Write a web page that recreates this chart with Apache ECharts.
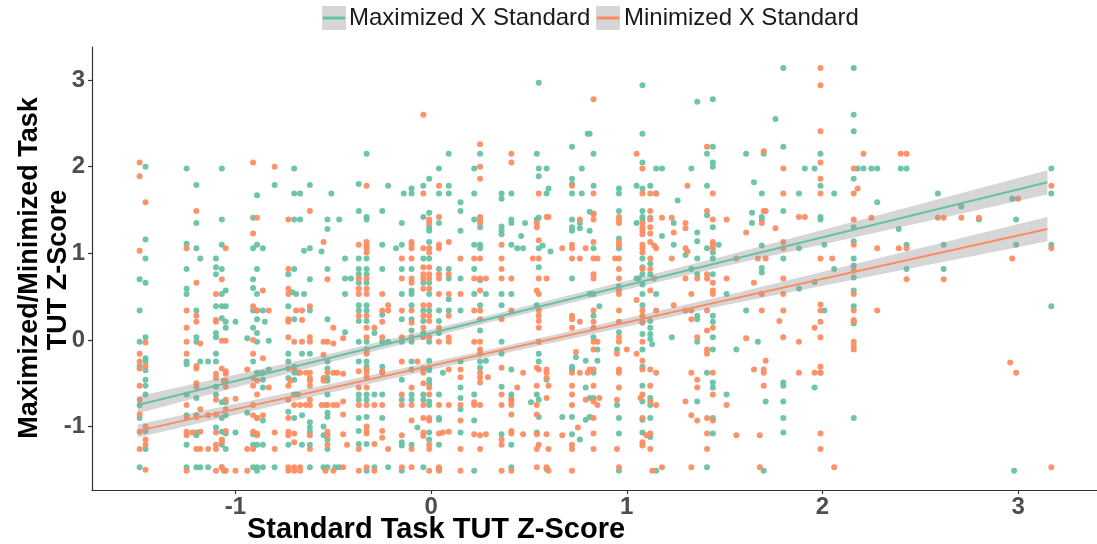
<!DOCTYPE html>
<html><head><meta charset="utf-8">
<script src="https://cdn.jsdelivr.net/npm/echarts@6/dist/echarts.min.js"></script>
<style>html,body{margin:0;padding:0;background:#fff}#c{width:1097px;height:544px}</style>
</head><body><div id="c"></div>
<script>
var seriesNames = ['Maximized X Standard', 'Minimized X Standard'];
var xTicks = [-1, 0, 1, 2, 3];
var yTicks = [-1, 0, 1, 2, 3];

var maxPts = [
[-1.46,2.0],[-1.46,1.16],[-1.46,0.94],[-1.49,0.70],[-1.46,0.66],[-1.49,0.34],[-1.49,-0.02],[-1.46,0.03],[-1.46,-0.21],[-1.46,-0.25],[-1.49,-0.30],[-1.46,-0.35],[-1.46,-0.46],[-1.46,-0.53],[-1.46,-0.63],[-1.49,-0.75],[-1.49,-0.90],[-1.46,-1.05],[-1.46,-1.26],[-1.49,-1.47],
[-1.25,1.98],[-1.20,1.79],[-1.20,1.35],[-1.25,1.11],[-1.20,1.06],[-1.18,0.94],[-1.25,0.82],[-1.25,0.59],[-1.25,0.53],[-1.20,0.34],[-1.20,-0.02],[-1.20,0.03],[-1.25,-0.25],[-1.25,-0.28],[-1.18,-0.25],[-1.14,-0.25],[-1.25,-0.63],[-1.20,-0.67],[-1.25,-0.87],[-1.20,-0.87],[-1.20,-1.07],[-1.20,-1.10],[-1.25,-1.21],[-1.25,-1.47],[-1.20,-1.47],[-1.18,-1.47],[-1.14,-1.47],
[-1.07,1.98],[-1.07,1.39],[-1.07,1.10],[-1.10,0.94],[-1.10,0.84],[-1.07,0.82],[-1.10,0.76],[-1.05,0.57],[-1.07,0.53],[-1.10,0.39],[-1.07,0.39],[-1.05,0.39],[-1.07,0.25],[-1.05,0.21],[-1.00,0.21],[-1.05,0.14],[-1.10,0.08],[-1.10,0.03],[-0.94,0.02],[-1.10,-0.16],[-1.10,-0.25],[-1.10,-0.54],[-1.10,-0.63],[-1.07,-0.72],[-1.05,-0.72],[-1.05,-0.87],[-1.07,-0.90],[-1.10,-1.01],[-1.07,-1.06],[-1.05,-1.08],[-1.07,-1.21],[-1.05,-1.26],[-1.00,-1.07],[-1.07,-1.47],
[-0.89,1.67],[-0.91,1.41],[-0.91,1.06],[-0.89,1.10],[-0.86,1.06],[-0.89,0.82],[-0.91,0.70],[-0.91,0.60],[-0.89,0.53],[-0.91,0.34],[-0.89,0.34],[-0.86,0.34],[-0.89,0.24],[-0.85,0.21],[-0.91,0.14],[-0.89,0.08],[-0.89,-0.02],[-0.83,-0.01],[-0.91,-0.25],[-0.89,-0.38],[-0.86,-0.38],[-0.83,-0.34],[-0.86,-0.46],[-0.86,-0.55],[-0.94,-0.84],[-0.89,-0.90],[-0.86,-0.93],[-0.91,-1.09],[-0.91,-1.21],[-0.89,-1.21],[-0.86,-1.21],[-0.91,-1.47],[-0.89,-1.47],[-0.86,-1.47],[-0.89,-1.51],[-0.80,-1.47],
[-0.80,1.79],[-0.70,1.98],[-0.70,1.69],[-0.67,1.69],[-0.62,1.79],[-0.51,1.69],
[-0.70,1.39],[-0.67,1.39],[-0.65,1.03],[-0.62,1.06],[-0.70,0.82],[-0.73,0.76],[-0.62,0.70],[-0.71,0.55],[-0.69,0.53],[-0.65,0.53],[-0.73,0.39],[-0.62,0.34],[-0.70,0.24],[-0.73,-0.16],[-0.73,-0.25],[-0.66,-0.16],[-0.62,-0.16],[-0.70,-0.31],[-0.70,-0.38],[-0.68,-0.38],[-0.73,-0.44],[-0.70,-0.46],[-0.70,-0.63],[-0.68,-0.63],[-0.73,-0.83],[-0.66,-0.87],[-0.70,-0.90],[-0.62,-0.95],[-0.62,-1.01],[-0.62,-1.06],[-0.73,-1.21],[-0.66,-1.21],[-0.62,-1.21],[-0.62,-1.47],
[-0.53,1.39],[-0.47,1.39],[-0.53,1.28],[-0.56,1.02],[-0.53,0.82],[-0.53,0.24],[-0.53,-0.25],[-0.53,-0.33],[-0.53,-0.44],[-0.53,-0.47],[-0.53,-0.63],[-0.53,-0.84],[-0.53,-0.89],[-0.55,-1.0],[-0.55,-1.10],[-0.53,-1.15],[-0.53,-1.26],[-0.55,-1.47],[-0.53,-1.47],[-0.49,-1.47],[-0.47,-1.47],
[-0.44,0.94],[-0.44,0.71],[-0.44,0.53],[-0.44,0.09],[-0.41,0.71],
[-0.37,1.80],[-0.33,2.15],[-0.37,1.49],[-0.33,1.42],[-0.33,1.39],[-0.37,0.94],[-0.33,0.94],[-0.37,0.82],[-0.33,0.82],[-0.37,0.76],[-0.33,0.76],[-0.37,0.66],[-0.33,0.66],[-0.37,0.40],[-0.33,0.40],[-0.37,0.34],[-0.33,0.34],[-0.37,0.22],[-0.33,0.22],[-0.37,-0.02],[-0.33,-0.02],[-0.37,-0.25],[-0.33,-0.25],[-0.33,-0.31],[-0.37,-0.63],[-0.33,-0.63],[-0.37,-0.69],[-0.33,-0.69],[-0.37,-0.90],[-0.33,-0.89],[-0.37,-1.05],[-0.37,-1.20],[-0.33,-1.20],[-0.33,-1.51],
[-0.22,1.78],[-0.25,1.49],[-0.25,1.10],[-0.25,0.82],[-0.25,0.29],[-0.29,0.08],[-0.25,-0.02],[-0.22,-0.02],[-0.18,1.06],[-0.25,-0.31],[-0.29,-0.63],[-0.25,-0.63],[-0.25,-0.90],[-0.22,-1.47],[-0.29,-1.47],
[-0.14,1.69],[-0.10,1.69],[-0.10,1.75],[-0.15,1.35],[-0.15,1.10],[-0.15,0.82],[-0.10,0.82],[-0.15,0.53],[-0.10,0.53],[-0.10,0.57],[-0.10,0.40],[-0.15,0.24],[-0.10,0.24],[-0.10,0.11],[-0.15,-0.02],[-0.10,-0.02],[-0.15,-0.46],[-0.10,-0.25],[-0.10,-0.34],[-0.10,-0.63],[-0.10,-0.69],[-0.15,-0.69],[-0.15,-1.18],[-0.15,-1.22],[-0.10,-1.21],[-0.15,-1.51],
[-0.04,1.78],[-0.01,1.86],[-0.04,1.42],[-0.01,1.47],[-0.01,1.30],[-0.01,1.26],[-0.01,1.13],[-0.04,0.94],[-0.01,0.94],[-0.04,0.66],[-0.01,0.66],[-0.01,0.53],[-0.04,0.34],[-0.01,0.34],[-0.04,0.22],[-0.04,0.08],[-0.01,-0.02],[-0.07,-1.01],[-0.01,-0.24],[-0.01,-0.32],[-0.01,-0.35],[-0.01,-0.46],[-0.01,-0.51],[-0.04,-0.63],[-0.04,-0.69],[-0.01,-0.71],[-0.01,-0.75],[-0.01,-1.07],[-0.01,-1.15],[-0.04,-1.47],
[0.04,1.98],[0.04,1.69],[0.09,2.15],[0.09,1.78],[0.09,1.69],[0.04,1.35],[0.04,0.82],[0.09,0.82],[0.09,0.71],[0.09,0.47],[0.04,0.34],[0.09,0.34],[0.04,0.22],[0.04,0.08],[0.04,-0.63],[0.04,-0.90],[0.04,-0.92],[0.04,-1.21],[0.04,-1.49],[0.06,-0.38],
[0.15,1.59],[0.15,1.49],[0.15,1.26],[0.15,0.71],[0.15,0.34],[0.15,-0.25],[0.15,-0.55],[0.15,-0.67],[0.15,-0.80],[0.15,-1.07],
[0.22,1.98],[0.22,1.69],[0.25,2.15],[0.22,1.39],[0.25,1.30],[0.22,1.10],[0.25,1.10],[0.25,1.06],[0.22,0.82],[0.25,0.69],[0.22,0.53],[0.28,0.53],[0.25,0.40],[0.25,0.11],[0.25,-0.25],[0.25,-0.32],[0.28,-0.24],[0.22,-0.63],[0.22,-0.93],[0.22,-1.51],
[0.36,1.69],[0.41,1.69],[0.36,1.63],[0.36,1.31],[0.36,1.26],[0.36,1.22],[0.36,0.53],[0.36,0.40],[0.36,-0.02],[0.41,1.39],[0.41,1.35],[0.41,1.10],[0.44,1.06],[0.47,1.06],[0.46,1.20],[0.48,1.35],[0.41,0.53],[0.36,-0.16],[0.36,-0.54],[0.36,-1.09],[0.41,-0.34],[0.41,-0.63],[0.41,-0.67],[0.41,-1.21],[0.41,-1.47],
[0.55,2.97],[0.54,2.15],[0.55,1.98],[0.59,1.98],[0.55,1.89],[0.60,1.75],[0.59,1.69],[0.54,1.39],[0.55,1.41],[0.55,1.06],[0.57,1.09],[0.61,1.02],[0.55,0.84],[0.54,0.40],[0.51,-0.72],[0.54,-0.63],[0.55,-0.69],[0.55,-0.16],[0.55,-0.25],[0.55,-0.89],[0.54,-1.07],[0.59,-0.46],[0.59,-1.49],
[0.72,2.23],[0.72,1.86],[0.72,1.80],[0.72,1.69],[0.77,1.98],[0.77,1.69],[0.80,2.38],[0.72,1.39],[0.72,1.30],[0.72,1.26],[0.76,1.35],[0.76,1.29],[0.72,0.71],[0.72,-0.31],[0.72,-0.34],[0.74,-0.20],[0.67,-0.89],[0.72,-0.89],[0.72,-1.09],[0.76,-1.15],[0.79,-0.24],[0.79,-0.55],[0.79,-0.92],
[0.81,2.38],[0.83,2.15],[0.83,1.78],[0.81,1.48],[0.83,1.46],[0.81,1.26],[0.83,1.06],[0.83,0.53],[0.81,0.53],[0.86,0.39],[0.83,0.28],[0.83,0.03],[0.85,-0.11],[0.85,-0.24],[0.83,-0.38],[0.83,-0.67],[0.81,-0.67],[0.81,-0.89],
[0.96,1.75],[0.96,1.69],[0.96,1.49],[0.96,1.17],[0.96,1.06],[0.96,0.62],[0.96,0.09],[0.95,-0.11],[0.95,-0.75],[0.96,-0.90],[0.96,-1.08],[0.96,-1.51],
[1.08,2.94],[1.08,2.38],[1.08,2.05],[1.05,1.78],[1.08,1.75],[1.05,1.35],[1.08,1.49],[1.08,1.42],[1.08,1.39],[1.08,0.94],[1.08,0.84],[1.08,0.76],[1.05,0.71],[1.06,0.71],[1.08,0.64],[1.08,0.53],[1.08,0.40],[1.08,0.20],[1.08,0.07],[1.08,-0.11],[1.08,-0.31],[1.08,-0.53],[1.08,-0.71],[1.08,-0.92],[1.08,-1.07],
[1.12,1.78],[1.15,1.98],[1.18,1.98],[1.15,1.69],[1.12,1.41],[1.12,0.88],[1.12,0.76],[1.15,0.53],[1.12,0.22],[1.12,0.14],[1.12,0.07],[1.12,0.01],[1.13,-0.05],[1.18,1.20],[1.12,-0.67],[1.12,-0.75],[1.12,-0.90],[1.12,-1.12],[1.15,-1.51],
[1.33,1.98],[1.36,2.75],[1.26,1.61],[1.24,1.35],[1.24,1.10],[1.30,0.98],[1.36,1.24],[1.36,1.14],[1.36,0.94],[1.33,0.82],[1.36,0.76],[1.36,0.28],[1.36,0.24],[1.23,0.03],[1.36,-0.02],[1.36,-0.71],
[1.44,2.78],[1.44,2.23],[1.41,2.15],[1.44,2.05],[1.44,2.0],[1.41,1.78],[1.41,1.44],[1.44,1.30],[1.41,1.06],[1.44,1.01],[1.44,0.94],[1.44,0.76],[1.44,0.28],[1.44,0.21],[1.44,0.03],[1.44,-0.11],[1.41,-0.38],[1.44,-0.49],[1.44,-0.55],[1.44,-0.90],[1.44,-1.08],[1.41,-1.47],[1.47,1.10],[1.51,0.53],[1.51,-0.63],[1.56,-0.11],
[1.61,2.15],[1.65,1.82],[1.69,1.69],[1.76,2.55],[1.70,2.15],[1.61,0.34],[1.64,1.47],[1.64,1.35],[1.69,1.42],[1.69,1.39],[1.69,1.09],[1.69,0.83],[1.69,0.78],[1.67,-0.02],[1.71,-0.71],[1.70,-1.51],
[1.80,3.14],[1.80,2.23],[1.80,1.49],[1.80,0.94],[1.80,-0.49],[1.80,-0.53],[1.80,-0.71],[1.80,-0.90],[1.80,-1.07],[1.88,1.69],[1.91,1.98],[1.96,1.98],[1.88,1.06],[1.88,0.59],
[1.99,2.15],[1.99,1.78],[1.99,1.42],[1.99,1.39],[2.01,1.10],[2.06,0.82],[1.96,0.67],[2.01,0.34],[1.99,-0.38],[1.96,-0.55],[2.06,1.69],
[2.16,3.14],[2.16,2.60],[2.16,2.41],[2.16,1.86],[2.18,1.98],[2.21,1.98],[2.25,1.98],[2.28,1.98],[2.16,1.30],[2.16,1.14],[2.16,0.94],[2.16,0.86],[2.16,0.72],[2.16,0.57],[2.16,0.39],[2.16,0.19],[2.16,-0.90],[2.28,1.59],[2.39,1.28],[2.40,1.98],[2.43,1.98],[2.43,1.10],[2.43,0.82],[2.59,1.69],[2.62,1.10],[2.62,0.82],[2.71,1.54],[2.80,1.39],[2.97,1.63],[2.99,1.39],[2.99,1.10],[2.98,-1.51],[3.17,1.98],[3.17,1.69],[3.17,1.10],[3.17,0.39]
];

var minPts = [
[-1.49,2.05],[-1.49,1.89],[-1.46,1.59],[-1.49,1.03],[-1.46,-0.03],[-1.49,-0.16],[-1.49,-0.25],[-1.46,-0.30],[-1.49,-0.33],[-1.49,-0.53],[-1.49,-0.69],[-1.49,-0.86],[-1.46,-1.0],[-1.49,-1.06],[-1.46,-1.15],[-1.46,-1.21],[-1.49,-1.26],[-1.46,-1.50],
[-1.20,1.49],[-1.25,1.06],[-1.20,0.66],[-1.25,0.34],[-1.20,0.28],[-1.20,0.21],[-1.25,0.14],[-1.25,-0.02],[-1.18,-0.04],[-1.25,-0.16],[-1.20,-0.30],[-1.20,-0.33],[-1.20,-0.50],[-1.20,-0.54],[-1.25,-0.75],[-1.18,-0.80],[-1.25,-0.90],[-1.20,-0.89],[-1.14,-0.87],[-1.25,-1.06],[-1.25,-1.10],[-1.22,-1.07],[-1.18,-1.06],[-1.20,-1.26],[-1.18,-1.26],[-1.14,-1.26],[-1.25,-1.51],
[-1.05,1.06],[-1.07,0.70],[-1.10,0.53],[-1.10,0.23],[-1.10,0.21],[-1.07,-0.01],[-1.05,-0.01],[-1.07,-0.33],[-1.05,-0.36],[-1.05,-0.39],[-1.10,-0.39],[-1.10,-0.44],[-1.06,-0.47],[-1.05,-0.47],[-1.05,-0.54],[-1.10,-0.69],[-1.05,-0.69],[-1.05,-0.80],[-1.10,-0.86],[-1.10,-1.07],[-1.05,-1.05],[-1.07,-1.15],[-1.07,-1.18],[-1.10,-1.21],[-1.10,-1.26],[-1.10,-1.51],[-1.07,-1.47],[-1.06,-1.51],[-1.05,-1.51],[-1.00,-1.51],[-1.00,-0.68],
[-0.91,2.05],[-0.80,2.0],[-0.89,1.41],[-0.91,1.23],[-0.86,0.57],[-0.91,0.39],[-0.89,0.34],[-0.83,0.34],[-0.91,0.0],[-0.94,-0.34],[-0.91,-0.16],[-0.86,-0.21],[-0.91,-0.44],[-0.89,-0.47],[-0.91,-0.53],[-0.83,-0.55],[-0.89,-0.63],[-0.91,-0.75],[-0.91,-0.87],[-0.89,-0.90],[-0.86,-0.87],[-0.91,-1.06],[-0.89,-1.08],[-0.89,-1.10],[-0.80,-1.07],[-0.94,-1.26],[-0.91,-1.26],[-0.80,-1.26],[-0.94,-1.51],
[-0.73,1.39],[-0.62,1.49],[-0.73,0.82],[-0.73,0.59],[-0.73,0.53],[-0.62,0.39],[-0.69,0.34],[-0.66,0.34],[-0.73,0.24],[-0.73,0.21],[-0.66,0.23],[-0.73,0.03],[-0.70,-0.02],[-0.66,-0.02],[-0.62,0.03],[-0.62,-0.02],[-0.73,-0.33],[-0.70,-0.33],[-0.67,-0.38],[-0.64,-0.38],[-0.62,-0.38],[-0.72,-0.47],[-0.73,-0.53],[-0.62,-0.44],[-0.62,-0.47],[-0.62,-0.53],[-0.73,-0.69],[-0.70,-0.75],[-0.67,-0.75],[-0.64,-0.75],[-0.62,-0.69],[-0.62,-0.75],[-0.73,-0.90],[-0.73,-1.06],[-0.70,-1.08],[-0.73,-1.10],[-0.70,-1.18],[-0.62,-1.10],[-0.62,-1.26],[-0.73,-1.47],[-0.70,-1.47],[-0.67,-1.47],[-0.73,-1.51],[-0.70,-1.51],[-0.67,-1.51],
[-0.55,1.13],[-0.53,0.70],[-0.50,0.14],[-0.55,-0.02],[-0.53,-0.02],[-0.50,-0.04],[-0.55,-0.17],[-0.53,-0.38],[-0.50,-0.38],[-0.48,-0.38],[-0.55,-0.44],[-0.55,-0.47],[-0.56,-0.75],[-0.54,-0.75],[-0.53,-0.75],[-0.50,-0.75],[-0.48,-0.75],[-0.53,-1.06],[-0.53,-1.10],[-0.53,-1.21],[-0.54,-1.51],[-0.50,-1.51],
[-0.45,0.02],[-0.45,-0.39],[-0.45,-0.71],[-0.45,-0.86],[-0.45,-1.09],[-0.45,-1.47],[-0.43,-1.21],
[-0.33,1.78],[-0.37,1.10],[-0.33,1.13],[-0.33,1.09],[-0.33,1.06],[-0.33,1.01],[-0.37,0.71],[-0.33,0.71],[-0.37,0.59],[-0.37,0.53],[-0.33,0.59],[-0.33,0.53],[-0.37,0.28],[-0.33,0.28],[-0.33,0.14],[-0.33,0.03],[-0.33,-0.11],[-0.33,-0.16],[-0.37,-0.36],[-0.33,-0.34],[-0.33,-0.38],[-0.33,-0.43],[-0.37,-0.55],[-0.33,-0.55],[-0.37,-0.75],[-0.33,-0.75],[-0.33,-1.0],[-0.33,-1.05],[-0.33,-1.08],[-0.37,-1.26],[-0.37,-1.51],[-0.33,-1.47],
[-0.25,0.53],[-0.25,0.34],[-0.22,0.40],[-0.22,0.34],[-0.25,0.21],[-0.29,0.14],[-0.25,0.03],[-0.25,-0.36],[-0.25,-0.38],[-0.29,-0.75],[-0.25,-0.75],[-0.25,-1.05],[-0.25,-1.13],[-0.29,-1.20],[-0.22,-1.26],[-0.29,-1.51],
[-0.04,2.60],[-0.04,1.69],[-0.10,1.13],[-0.10,1.10],[-0.10,1.06],[-0.15,0.94],[-0.10,0.94],[-0.15,0.71],[-0.10,0.71],[-0.10,0.66],[-0.15,0.34],[-0.10,0.34],[-0.10,0.20],[-0.15,0.03],[-0.10,0.03],[-0.15,-0.25],[-0.10,-0.55],[-0.15,-0.63],[-0.15,-0.75],[-0.10,-0.75],[-0.10,-0.93],[-0.15,-1.10],[-0.10,-1.26],[-0.15,-1.47],[-0.10,-1.47],
[-0.01,1.39],[-0.01,1.35],[-0.04,1.06],[-0.01,1.06],[-0.01,1.01],[-0.04,0.84],[-0.01,0.84],[-0.04,0.76],[-0.01,0.76],[-0.04,0.71],[-0.01,0.71],[-0.04,0.59],[-0.01,0.59],[-0.04,0.40],[-0.01,0.40],[-0.04,0.28],[-0.01,0.28],[-0.01,0.22],[-0.04,0.14],[-0.04,0.03],[-0.01,0.03],[-0.07,-0.25],[-0.04,-0.33],[-0.04,-0.38],[-0.04,-0.50],[-0.01,-0.55],[-0.01,-0.63],[-0.04,-0.75],[-0.04,-0.90],[-0.01,-0.90],[-0.01,-0.93],[-0.04,-1.07],[-0.04,-1.11],[-0.01,-1.21],[-0.01,-1.26],[-0.01,-1.51],
[0.04,1.78],[0.04,1.42],[0.04,1.10],[0.04,1.06],[0.09,1.13],[0.04,0.76],[0.04,0.71],[0.09,0.76],[0.04,0.53],[0.09,0.53],[0.09,0.28],[0.04,0.14],[0.09,0.03],[0.04,-0.02],[0.09,-0.02],[0.04,-0.75],[0.04,-1.08],[0.06,-1.07],[0.09,-1.06],[0.09,-0.34],[0.09,-0.75],[0.04,-1.47],[0.04,-1.51],
[0.15,0.94],[0.15,0.53],[0.15,-0.34],[0.15,-0.43],[0.15,-0.75],[0.15,-0.93],[0.15,-1.26],[0.15,-1.51],
[0.25,2.26],[0.25,2.0],[0.25,1.86],[0.25,1.42],[0.25,1.39],[0.25,1.35],[0.22,0.94],[0.25,0.94],[0.22,0.71],[0.25,0.71],[0.28,0.71],[0.25,0.57],[0.22,0.34],[0.25,0.34],[0.25,0.24],[0.22,-0.02],[0.25,-0.02],[0.25,-0.11],[0.25,-0.16],[0.25,-0.38],[0.25,-0.43],[0.25,-0.49],[0.29,-0.43],[0.22,-0.72],[0.22,-0.75],[0.25,-0.75],[0.22,-1.09],[0.25,-1.10],[0.28,-1.09],[0.25,-1.26],
[0.41,2.15],[0.41,2.05],[0.36,1.10],[0.36,0.94],[0.36,0.82],[0.36,0.71],[0.36,0.24],[0.41,0.71],[0.41,0.34],[0.36,-0.32],[0.36,-0.63],[0.36,-0.75],[0.36,-1.15],[0.36,-1.21],[0.36,-1.51],[0.41,-0.69],[0.41,-0.72],[0.41,-0.75],[0.41,-0.86],[0.41,-1.05],[0.41,-1.08],[0.41,-1.51],[0.44,-0.55],[0.47,-0.38],[0.47,-1.09],
[0.55,1.69],[0.52,0.94],[0.55,0.94],[0.55,1.15],[0.54,1.35],[0.54,1.30],[0.59,1.42],[0.60,1.42],[0.55,0.71],[0.59,0.71],[0.54,0.57],[0.55,0.53],[0.55,0.34],[0.55,0.28],[0.55,0.22],[0.55,0.14],[0.55,-0.02],[0.54,-0.32],[0.55,-0.34],[0.54,-0.53],[0.54,-0.75],[0.54,-0.86],[0.54,-1.09],[0.55,-1.21],[0.54,-1.26],[0.54,-1.47],[0.59,-0.34],[0.59,-0.38],[0.59,-0.44],[0.60,-0.53],[0.59,-0.67],[0.59,-1.09],[0.60,-1.26],[0.59,-1.47],[0.60,-1.51],
[0.67,1.06],[0.72,1.78],[0.72,1.10],[0.72,1.06],[0.72,0.94],[0.76,0.94],[0.76,1.39],[0.72,0.28],[0.72,0.24],[0.76,0.21],[0.72,0.14],[0.79,1.06],[0.72,-0.38],[0.72,-0.53],[0.72,-0.63],[0.72,-0.75],[0.67,-1.10],[0.75,-1.01],[0.72,-1.21],[0.72,-1.26],[0.72,-1.51],[0.74,-0.14],[0.76,-0.38],[0.80,-0.38],[0.79,-0.69],
[0.83,2.78],[0.83,1.69],[0.83,1.45],[0.83,1.39],[0.83,1.13],[0.83,0.94],[0.85,0.94],[0.83,0.76],[0.83,0.71],[0.83,0.34],[0.83,0.21],[0.83,0.14],[0.83,-0.02],[0.85,-0.02],[0.83,-0.11],[0.81,-0.34],[0.83,-0.34],[0.83,-0.53],[0.86,-0.67],[0.83,-0.71],[0.85,-0.75],[0.83,-0.90],[0.83,-1.08],[0.83,-1.26],
[0.96,1.42],[0.96,1.39],[0.96,1.35],[0.96,1.13],[0.96,1.09],[0.94,0.94],[0.96,0.94],[0.96,0.82],[0.96,0.71],[0.96,0.57],[0.96,0.53],[0.96,0.34],[0.96,0.21],[0.96,0.03],[0.96,-0.02],[0.95,-0.16],[0.96,-0.34],[0.96,-0.38],[0.96,-0.55],[0.95,-0.69],[0.95,-1.26],[0.96,-1.47],[1.00,-0.11],
[1.05,2.15],[1.08,1.98],[1.08,1.69],[1.08,1.35],[1.08,1.30],[1.08,1.26],[1.08,1.22],[1.08,1.10],[1.08,1.06],[1.08,1.01],[1.08,0.82],[1.05,0.46],[1.08,0.34],[1.08,0.28],[1.08,0.21],[1.08,-0.02],[1.05,-0.16],[1.08,-0.24],[1.08,-0.34],[1.07,-0.67],[1.08,-0.63],[1.08,-0.90],[1.10,-1.10],[1.08,-1.18],[1.08,-1.22],[1.12,1.49],[1.12,1.39],[1.12,1.30],[1.12,1.23],[1.12,1.13],[1.14,1.09],[1.15,1.06],[1.12,0.94],[1.12,0.82],[1.14,0.71],[1.12,0.57],[1.15,0.34],[1.12,1.69],[1.15,1.69],[1.12,-0.34],[1.15,-0.38],[1.12,-0.53],[1.12,-0.71],[1.15,-0.75],[1.12,-1.08],[1.12,-1.26],[1.13,-1.51],[1.18,-1.47],[1.18,1.41],
[1.31,1.78],[1.23,1.41],[1.24,1.24],[1.30,1.35],[1.30,1.29],[1.30,1.06],[1.31,1.02],[1.23,0.94],[1.30,0.71],[1.33,0.53],[1.24,0.40],[1.30,0.34],[1.33,0.34],[1.33,0.24],[1.36,0.71],[1.33,-0.38],[1.36,-0.46],[1.36,-0.55],[1.30,-0.71],[1.33,-0.87],[1.36,-0.93],[1.33,-1.47],[1.36,0.03],
[1.41,2.23],[1.44,1.69],[1.41,1.49],[1.44,1.39],[1.44,1.13],[1.44,1.10],[1.44,1.06],[1.41,0.76],[1.41,0.71],[1.44,0.66],[1.44,0.57],[1.44,0.53],[1.41,0.34],[1.41,0.11],[1.44,0.14],[1.41,-0.11],[1.41,-0.16],[1.44,-0.38],[1.44,-0.63],[1.41,-0.90],[1.44,-0.93],[1.41,-1.08],[1.41,-1.26],[1.51,1.39],[1.51,0.71],[1.51,-0.75],[1.56,0.94],[1.56,-1.10],[1.61,1.24],[1.61,0.02],
[1.70,2.18],[1.99,3.14],[1.99,2.94],[1.99,2.41],[1.99,2.05],[1.99,1.86],[1.65,0.66],[1.65,-0.34],[1.70,1.49],[1.71,1.49],[1.69,1.35],[1.67,0.94],[1.71,0.94],[1.69,0.53],[1.70,-0.38],[1.70,-0.34],[1.71,-0.24],[1.70,-0.53],[1.68,-1.10],[1.68,-1.47],[1.69,0.34],
[1.80,1.98],[1.80,1.69],[1.76,1.29],[1.80,1.13],[1.80,1.06],[1.80,0.71],[1.80,0.53],[1.78,0.22],[1.80,0.34],[1.80,0.03],[1.88,1.42],[1.91,1.42],[1.88,-0.38],[1.88,-0.02],[1.96,-0.38],
[1.99,0.94],[2.05,0.94],[1.99,0.41],[1.99,0.34],[1.99,0.21],[1.96,0.14],[1.99,0.03],[1.99,-0.31],[1.99,-0.38],[1.99,-1.08],[1.99,-1.26],[2.06,-1.47],[1.99,1.69],
[2.21,2.15],[2.40,2.15],[2.43,2.15],[2.16,1.98],[2.18,1.75],[2.16,1.69],[2.16,1.39],[2.25,1.41],[2.16,1.10],[2.28,1.06],[2.39,1.06],[2.43,1.06],[2.16,0.80],[2.43,0.70],[2.16,0.53],[2.16,0.34],[2.28,0.34],[2.16,0.23],[2.16,0.21],[2.16,-0.02],[2.16,-0.07],[2.16,-0.11],[2.59,1.41],[2.62,1.41],[2.62,0.70],[2.71,1.41],[2.80,1.41],[3.0,1.63],[2.97,0.94],[2.96,-0.26],[2.99,-0.38],[3.17,1.06],[3.17,1.78],[3.17,-1.47]
];

// fitted regression lines
var fitX = [-1.5, 3.15];
var maxFit = [-0.75, 1.82];
var minFit = [-1.05, 1.28];
// confidence bands
var bandX = [-1.5, -0.5, 0.3, 1.5, 3.15];
var maxLo = [-0.85, -0.25, 0.205, 0.85, 1.68];
var maxHi = [-0.65, -0.15, 0.285, 0.97, 1.96];
var minLo = [-1.125, -0.60, -0.19, 0.40, 1.14];
var minHi = [-0.975, -0.50, -0.11, 0.51, 1.42];

var colMax = '#66c2a5', colMin = '#fc8d62';

function bandSeries(lo, hi, z) {
  return {
    type: 'custom', coordinateSystem: 'cartesian2d', z: z, silent: true,
    data: [[bandX[0], lo[0]]],
    renderItem: function (params, api) {
      var pts = [];
      for (var i = 0; i < bandX.length; i++) pts.push(api.coord([bandX[i], hi[i]]));
      for (var j = bandX.length - 1; j >= 0; j--) pts.push(api.coord([bandX[j], lo[j]]));
      return { type: 'polygon', shape: { points: pts }, style: { fill: 'rgba(153,153,153,0.4)' } };
    }
  };
}
function fitData(ys) { return fitX.map(function (x, i) { return [x, ys[i]]; }); }

var chart = echarts.init(document.getElementById('c'), null, { renderer: 'canvas' });
var tickFont = { fontFamily: 'Liberation Sans', fontWeight: 'bold', fontSize: 24, color: '#4d4d4d' };
chart.setOption({
  animation: false,
  grid: { left: 92, right: -10, top: 47, bottom: 54, containLabel: false },
  xAxis: {
    type: 'value', min: -1.7335, max: 3.4035,
    axisLine: { show: true, onZero: false, lineStyle: { color: '#333', width: 1.2 } },
    axisTick: { show: true, length: 4, lineStyle: { color: '#333', width: 1.2 }, customValues: xTicks },
    axisLabel: Object.assign({ margin: 5, customValues: xTicks, formatter: function (v) { return String(v); } }, tickFont),
    splitLine: { show: false }
  },
  yAxis: {
    type: 'value', min: -1.7325, max: 3.3825,
    axisLine: { show: true, onZero: false, lineStyle: { color: '#333', width: 1.2 } },
    axisTick: { show: true, length: 4, lineStyle: { color: '#333', width: 1.2 }, customValues: yTicks },
    axisLabel: Object.assign({ margin: 7, customValues: yTicks, formatter: function (v) { return String(v); } }, tickFont),
    splitLine: { show: false }
  },
  series: [
    { name: seriesNames[0], type: 'scatter', data: maxPts, symbolSize: 6, itemStyle: { color: colMax, opacity: 0.95 }, z: 2 },
    { name: seriesNames[1], type: 'scatter', data: minPts, symbolSize: 6, itemStyle: { color: colMin, opacity: 0.95 }, z: 2 },
    bandSeries(maxLo, maxHi, 3),
    bandSeries(minLo, minHi, 3),
    { type: 'line', data: fitData(maxFit), showSymbol: false, lineStyle: { color: colMax, width: 2 }, z: 4 },
    { type: 'line', data: fitData(minFit), showSymbol: false, lineStyle: { color: colMin, width: 2 }, z: 4 }
  ],
  graphic: [
    { type: 'rect', shape: { x: 322, y: 6, width: 24, height: 24 }, style: { fill: '#d6d6d6' } },
    { type: 'line', shape: { x1: 323, y1: 18, x2: 345, y2: 18 }, style: { stroke: colMax, lineWidth: 3 } },
    { type: 'text', left: 349, top: 6, style: { text: seriesNames[0], font: '24px "Liberation Sans"', fill: '#1a1a1a' } },
    { type: 'rect', shape: { x: 596, y: 6, width: 24, height: 24 }, style: { fill: '#d6d6d6' } },
    { type: 'line', shape: { x1: 597, y1: 18, x2: 619, y2: 18 }, style: { stroke: colMin, lineWidth: 3 } },
    { type: 'text', left: 624, top: 6, style: { text: seriesNames[1], font: '24px "Liberation Sans"', fill: '#1a1a1a' } },
    { type: 'text', x: 436, y: 530, style: { text: 'Standard Task TUT Z-Score', font: 'bold 29px "Liberation Sans"', fill: '#000', textAlign: 'center', textVerticalAlign: 'middle' } },
    { type: 'text', x: 30, y: 268, rotation: Math.PI / 2, style: { text: 'Maximized/Minimized Task', font: 'bold 27px "Liberation Sans"', fill: '#000', textAlign: 'center', textVerticalAlign: 'middle' } },
    { type: 'text', x: 59, y: 270, rotation: Math.PI / 2, style: { text: 'TUT Z-Score', font: 'bold 27px "Liberation Sans"', fill: '#000', textAlign: 'center', textVerticalAlign: 'middle' } }
  ]
});
</script></body></html>
